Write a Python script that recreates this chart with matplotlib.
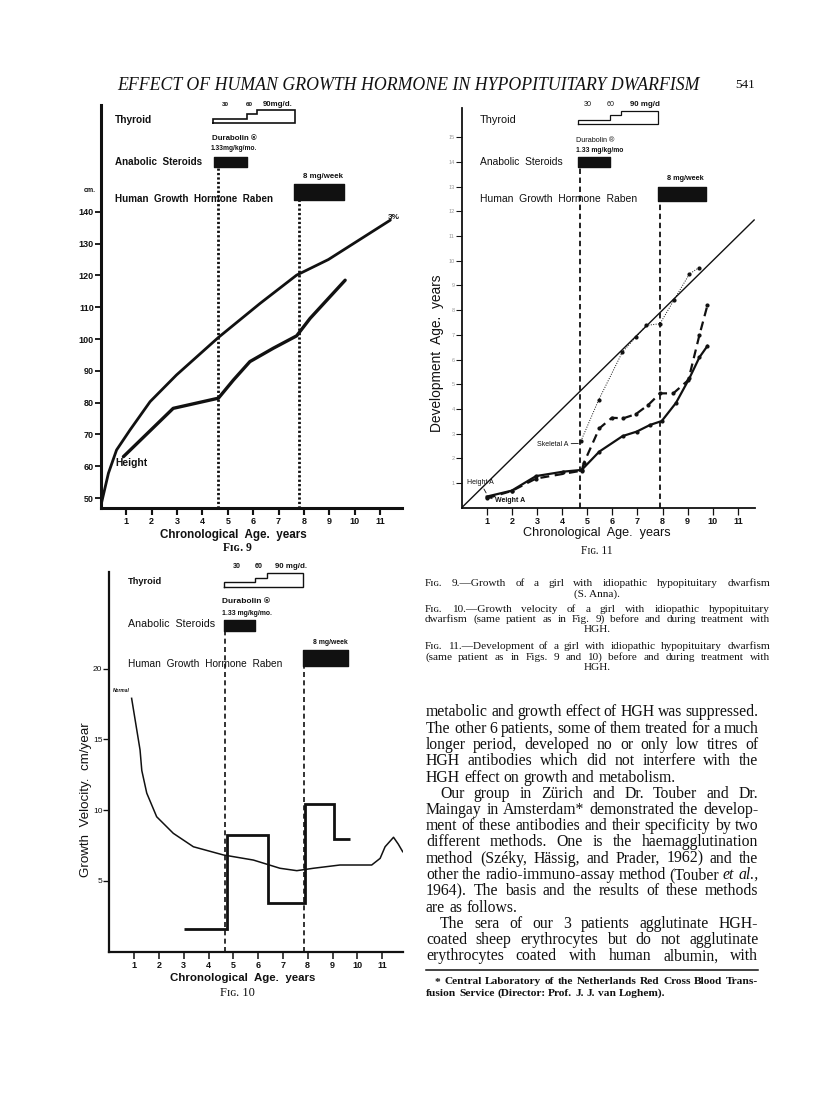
import matplotlib
matplotlib.use("Agg")
import matplotlib.pyplot as plt
from matplotlib.lines import Line2D

W, H = 816, 1112

# ---------------- Fig. 9: height (cm) against chronological age (years)
f9_norm_age = [0, 0.3, 0.62, 1.15, 1.94, 2.98, 4.63, 6.27, 7.71, 8.96, 11.4]
f9_norm_cm = [47.5, 57.8, 65.1, 71.4, 80.3, 88.7, 100.5, 111.2, 120.1, 125.0, 137.4]
f9_pat_age = [0.89, 2.85, 4.63, 5.22, 5.87, 6.79, 7.71, 8.24, 9.62]
f9_pat_cm = [63, 78.2, 81.4, 87.1, 92.9, 97.1, 101, 106.5, 118.5]
f9_yticks = [50, 60, 70, 80, 90, 100, 110, 120, 130, 140]
f9_thy_start = [4.42, 5.76, 6.15]
f9_thy_end = 7.65
f9_anab = [4.46, 5.75]
f9_hgh = [7.61, 9.57]
f9_lines = [4.62, 7.8]

# ---------------- Fig. 10: growth velocity (cm/year)
f10_norm_age = [0.9, 1.24, 1.31, 1.51, 1.91, 2.58, 3.39, 4.6, 5.81, 6.88, 7.56,
                8.23, 9.3, 10.58, 10.92, 11.12, 11.46, 11.65, 11.83]
f10_norm_vel = [17.9, 14.25, 12.8, 11.2, 9.53, 8.36, 7.41, 6.83, 6.47, 5.89, 5.72,
                5.89, 6.12, 6.12, 6.59, 7.41, 8.08, 7.6, 7.06]
f10_edges = [3.0, 4.73, 6.39, 7.9, 9.04, 9.71]
f10_vel = [1.6, 8.24, 3.46, 10.43, 7.94]
f10_yticks = [5, 10, 15, 20]
f10_thy_start = [4.62, 5.88, 6.35]
f10_thy_end = 7.8
f10_anab = [4.62, 5.88]
f10_hgh = [7.8, 9.64]
f10_lines = [4.67, 7.86]

# ---------------- Fig. 11: development age (years)
f11_height_age = [1.0, 1.99, 2.96, 4.05, 4.78, 5.48, 6.41, 6.97, 7.5, 7.97, 8.54, 9.07, 9.47, 9.79]
f11_height_dev = [0.45, 0.69, 1.28, 1.46, 1.53, 2.27, 2.9, 3.08, 3.35, 3.51, 4.25, 5.24, 6.09, 6.55]
f11_weight_age = [1.0, 2.0, 2.96, 4.78, 4.87, 5.48, 5.98, 6.44, 6.94, 7.43, 7.9, 8.43, 9.03, 9.47, 9.79]
f11_weight_dev = [0.38, 0.68, 1.18, 1.5, 1.82, 3.21, 3.64, 3.62, 3.79, 4.16, 4.63, 4.63, 5.17, 6.99, 8.2]
f11_skel_age = [4.75, 5.45, 6.4, 6.95, 7.35, 7.9, 8.45, 9.07, 9.45]
f11_skel_dev = [2.7, 4.35, 6.3, 6.92, 7.38, 7.45, 8.4, 9.46, 9.72]
f11_diag = [0, 11.65]
f11_yticks = list(range(1, 16))
f11_thy_start = [4.65, 5.9, 6.33]
f11_thy_end = 7.83
f11_anab = [4.65, 5.91]
f11_hgh = [7.83, 9.73]
f11_lines = [4.73, 7.9]

thyroid_dose = [30, 60, 90]
ages = list(range(1, 12))

plt.rcParams["font.family"] = ["Liberation Sans", "DejaVu Sans"]
SERIF = ["Liberation Serif", "DejaVu Serif"]
INK = "#111111"

fig = plt.figure(figsize=(W / 100, H / 100), dpi=100, facecolor="white")
R = fig.canvas.get_renderer()


def box(x0, y0, x1, y1):
    # page pixels (top-left origin) -> figure fraction
    return [x0 / W, 1 - y1 / H, (x1 - x0) / W, (y1 - y0) / H]


def txt(x, y, s, w=None, size=7, rot=0, **kw):
    kw.setdefault("ha", "left")
    kw.setdefault("va", "center")
    kw.setdefault("color", INK)
    t = fig.text(x / W, 1 - y / H, s, fontsize=size, rotation=rot, **kw)
    if w:
        bb = t.get_window_extent(R)
        cur = bb.height if rot else bb.width
        t.set_fontsize(size * w / cur)
    return t


def fit_size(s, width, size=10, **kw):
    t = fig.text(0, 0, s, fontsize=size, **kw)
    w = t.get_window_extent(R).width
    t.remove()
    return size * width / w


def justify(line, x0, x1, y, size, last=False, **kw):
    # words starting with ~ are set in italic
    words = line.split()
    ts = []
    for wd in words:
        st = "normal"
        if wd.startswith("~"):
            wd, st = wd[1:], "italic"
        ts.append(fig.text(0, 0, wd, fontsize=size, style=st, ha="left",
                           va="baseline", color=INK, **kw))
    ws = [t.get_window_extent(R).width for t in ts]
    if last or len(ws) == 1:
        gap = size * 100 / 72 * 0.25
    else:
        gap = (x1 - x0 - sum(ws)) / (len(ws) - 1)
    x = x0
    for t, w in zip(ts, ws):
        t.set_position((x / W, 1 - y / H))
        x += w + gap


def setup(ax, xmax, ylim, yticks, lw, bold_x=True, bold_y=True, ysize=6.5):
    ax.set_xlim(0, xmax)
    ax.set_ylim(*ylim)
    ax.patch.set_visible(False)
    for s in ("top", "right"):
        ax.spines[s].set_visible(False)
    for s in ("left", "bottom"):
        ax.spines[s].set_linewidth(lw)
        ax.spines[s].set_color(INK)
    ax.set_xticks(ages)
    ax.set_yticks(yticks)
    ax.tick_params(axis="x", direction="out", length=5, width=lw * 0.7, pad=1.5,
                   labelsize=6.5, colors=INK)
    ax.tick_params(axis="y", direction="out", length=4, width=lw * 0.6, pad=1,
                   labelsize=ysize, colors=INK)
    if bold_x:
        plt.setp(ax.get_xticklabels(), fontweight="bold")
    if bold_y:
        plt.setp(ax.get_yticklabels(), fontweight="bold")


def treatments(ax, thy_start, thy_end, anab, hgh, lines, bottom, rows, lw, ls, vlw):
    thy_base, k, anab_y, anab_h, hgh_y, hgh_h = rows
    xs, ys = [thy_start[0]], [thy_base]
    for i, d in enumerate(thyroid_dose):
        nxt = thy_start[i + 1] if i + 1 < len(thy_start) else thy_end
        xs += [thy_start[i], nxt]
        ys += [thy_base + d * k, thy_base + d * k]
    xs += [thy_end, thy_start[0]]
    ys += [thy_base, thy_base]
    ax.plot(xs, ys, color=INK, lw=lw, clip_on=False, solid_joinstyle="miter")
    ax.broken_barh([(anab[0], anab[1] - anab[0])], (anab_y, anab_h), color=INK)
    ax.broken_barh([(hgh[0], hgh[1] - hgh[0])], (hgh_y, hgh_h), color=INK)
    ax.vlines(lines, bottom, [anab_y, hgh_y], colors=INK, lw=vlw, linestyles=[ls])


# ======================= Fig. 9 =======================
ax9 = fig.add_axes(box(100.8, 105, 401.8, 508))
setup(ax9, 11.85, (46.86, 173.6), f9_yticks, 2.2)
ax9.plot(f9_norm_age, f9_norm_cm, color=INK, lw=2.0, solid_capstyle="round")
ax9.plot(f9_pat_age, f9_pat_cm, color=INK, lw=2.4, solid_capstyle="round")
treatments(ax9, f9_thy_start, f9_thy_end, f9_anab, f9_hgh, f9_lines, 46.86,
           (167.9, 0.0456, 154.1, 3.1, 143.7, 5.0), 1.2, (0, (0.8, 0.8)), 2.0)

B = dict(fontweight="bold")
txt(221.7, 105, "30", w=7, **B)
txt(246, 105, "60", w=7, **B)
txt(262.7, 105, "90mg/d.", w=30, **B)
txt(115, 120, "Thyroid", w=37, **B)
txt(212, 139, "Durabolin ®", w=45, **B)
txt(211, 149, "1.33mg/kg/mo.", w=46, **B)
txt(115, 162, "Anabolic  Steroids", w=87, **B)
txt(303, 176, "8 mg/week", w=40, **B)
txt(115, 199, "Human  Growth  Hormone  Raben", w=158, **B)
txt(84, 190, "cm.", w=12, **B)
txt(388, 217.7, "3%", w=12, **B)
txt(115, 462.7, "Height", w=32, **B)
txt(160, 535, "Chronological  Age.  years", w=146, **B)
txt(237, 548, "Fɪɢ. 9", w=29, ha="center", family=SERIF, **B)

# ======================= Fig. 10 =======================
ax10 = fig.add_axes(box(109.3, 572.4, 402.7, 951.6))
setup(ax10, 11.83, (0, 26.8), f10_yticks, 1.6, bold_y=False, ysize=6)
ax10.plot(f10_norm_age, f10_norm_vel, color=INK, lw=1.1)
ax10.stairs(f10_vel, f10_edges, baseline=None, color=INK, lw=2.0)
treatments(ax10, f10_thy_start, f10_thy_end, f10_anab, f10_hgh, f10_lines, 0,
           (25.79, 0.0105, 22.66, 0.77, 20.2, 1.11), 1.0, (0, (3, 2)), 1.2)

txt(233, 566.7, "30", w=8, **B)
txt(255, 566.7, "60", w=8, **B)
txt(275, 566.7, "90 mg/d.", w=32, **B)
txt(127.7, 581, "Thyroid", w=34, **B)
txt(221.7, 601.7, "Durabolin ®", w=48, **B)
txt(221.7, 613.3, "1.33 mg/kg/mo.", w=50, **B)
txt(127.7, 624.3, "Anabolic  Steroids", w=85.6)
txt(313.3, 642.3, "8 mg/week", w=35, **B)
txt(127.7, 664, "Human  Growth  Hormone  Raben", w=154)
txt(113, 690, "Normal", w=17, style="italic", **B)
txt(86, 800, "Growth  Velocity.  cm/year", w=155, rot=90, ha="center")
txt(170, 978.3, "Chronological  Age.  years", w=145, **B)
txt(237.5, 993, "Fɪɢ. 10", w=35, ha="center", family=SERIF)

# ======================= Fig. 11 =======================
ax11 = fig.add_axes(box(461.7, 107.6, 755.4, 507.7))
setup(ax11, 11.7, (0, 16.2), f11_yticks, 1.3, bold_y=False, ysize=4)
plt.setp(ax11.get_yticklabels(), color="#999999")
ax11.plot(f11_diag, f11_diag, color=INK, lw=1.0)
ax11.plot(f11_height_age, f11_height_dev, color=INK, lw=1.6, marker="o", ms=2)
ax11.plot(f11_weight_age, f11_weight_dev, color=INK, lw=1.6, ls=(0, (4, 2.5)),
          marker="o", ms=2)
ax11.plot(f11_skel_age, f11_skel_dev, color=INK, lw=0.7, ls=(0, (1, 1.5)),
          marker="o", ms=2)
treatments(ax11, f11_thy_start, f11_thy_end, f11_anab, f11_hgh, f11_lines, 0,
           (15.53, 0.006, 13.78, 0.41, 12.42, 0.58), 0.9, (0, (3, 2)), 1.3)

lead = dict(arrowstyle="-", lw=0.6, color=INK, shrinkA=0, shrinkB=1)
ax11.annotate("Skeletal A", xy=(f11_skel_age[0] - 0.05, f11_skel_dev[0] - 0.1),
              xytext=(537, H - 444), textcoords="figure pixels", va="center",
              fontsize=5, color=INK, arrowprops=lead)
ax11.annotate("Height A", xy=(f11_height_age[0], f11_height_dev[0] + 0.1),
              xytext=(467, H - 482.7), textcoords="figure pixels", va="center",
              fontsize=5, color=INK, arrowprops=lead)
ax11.annotate("Weight A", xy=(f11_weight_age[0] + 0.1, f11_weight_dev[0]),
              xytext=(495, H - 501), textcoords="figure pixels", va="center",
              fontsize=5, fontweight="bold", color=INK, arrowprops=lead)

txt(584, 105, "30", w=8)
txt(607, 105, "60", w=8)
txt(630, 105, "90 mg/d", w=30, **B)
txt(480, 120, "Thyroid", w=36)
txt(575.7, 140, "Durabolin ®", w=38)
txt(575.7, 150.7, "1.33 mg/kg/mo", w=47, **B)
txt(480, 161.7, "Anabolic  Steroids", w=83)
txt(666.7, 178.3, "8 mg/week", w=37, **B)
txt(480, 199.3, "Human  Growth  Hormone  Raben", w=158)
txt(437, 353, "Development  Age.  years", w=157, rot=90, ha="center")
txt(523, 533, "Chronological  Age.  years", w=147)
txt(597, 551, "Fɪɢ. 11", w=32, ha="center", family=SERIF)

# ======================= page text =======================
txt(117, 85, "EFFECT OF HUMAN GROWTH HORMONE IN HYPOPITUITARY DWARFISM", w=583,
    family=SERIF, style="italic")
txt(735, 85, "541", w=20, family=SERIF)

cap = [
    ("Fɪɢ. 9.—Growth of a girl with idiopathic hypopituitary dwarfism", 586, "j"),
    ("(S. Anna).", 596.5, "c"),
    ("Fɪɢ. 10.—Growth velocity of a girl with idiopathic hypopituitary", 611.5, "j"),
    ("dwarfism (same patient as in Fig. 9) before and during treatment with", 622, "j"),
    ("HGH.", 632.5, "c"),
    ("Fɪɢ. 11.—Development of a girl with idiopathic hypopituitary dwarfism", 649, "j"),
    ("(same patient as in Figs. 9 and 10) before and during treatment with", 659.5, "j"),
    ("HGH.", 670, "c"),
]
cs = min(fit_size(s, 322, family=SERIF) for s, y, m in cap if m == "j")
for s, y, mode in cap:
    if mode == "c":
        fig.text(597 / W, 1 - y / H, s, fontsize=cs, family=SERIF, ha="center",
                 va="baseline", color=INK)
    else:
        justify(s, 425, 770, y, cs, family=SERIF)

body = [
    ("metabolic and growth effect of HGH was suppressed.", 0, False),
    ("The other 6 patients, some of them treated for a much", 0, False),
    ("longer period, developed no or only low titres of", 0, False),
    ("HGH antibodies which did not interfere with the", 0, False),
    ("HGH effect on growth and metabolism.", 0, True),
    ("Our group in Zürich and Dr. Touber and Dr.", 1, False),
    ("Maingay in Amsterdam* demonstrated the develop-", 0, False),
    ("ment of these antibodies and their specificity by two", 0, False),
    ("different methods.  One is the haemagglutination", 0, False),
    ("method (Széky, Hässig, and Prader, 1962) and the", 0, False),
    ("other the radio-immuno-assay method (Touber ~et ~al.,", 0, False),
    ("1964).  The basis and the results of these methods", 0, False),
    ("are as follows.", 0, True),
    ("The sera of our 3 patients agglutinate HGH-", 1, False),
    ("coated sheep erythrocytes but do not agglutinate", 0, False),
    ("erythrocytes coated with human albumin, with", 0, False),
]
bs = fit_size("HGH effect on growth and metabolism.", 250.7, family=SERIF)
for i, (s, indent, last) in enumerate(body):
    y = 716.5 + i * 16.25
    justify(s, 426 + 14 * indent, 758.3, y, bs, last=last, family=SERIF)

fig.add_artist(Line2D([426 / W, 758 / W], [1 - 970 / H] * 2, lw=1.1, color=INK))
fs = fit_size("fusion Service (Director: Prof. J. J. van Loghem).", 240,
              family=SERIF, fontweight="bold")
justify("* Central Laboratory of the Netherlands Red Cross Blood Trans-", 435, 758,
        984.5, fs, family=SERIF, fontweight="bold")
justify("fusion Service (Director: Prof. J. J. van Loghem).", 426, 758, 996, fs,
        last=True, family=SERIF, fontweight="bold")

fig.savefig("out.png", dpi=100, facecolor="white")
